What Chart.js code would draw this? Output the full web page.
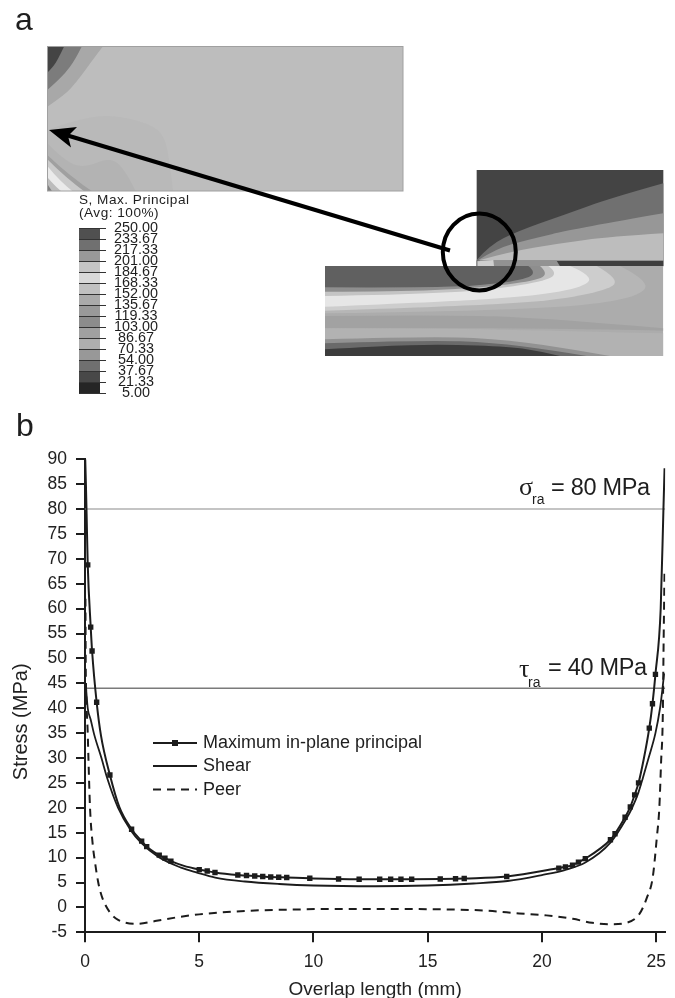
<!DOCTYPE html>
<html>
<head>
<meta charset="utf-8">
<style>html,body{margin:0;padding:0;background:#fff}canvas{display:block;filter:blur(0.35px)}</style>
<script src="https://cdn.jsdelivr.net/npm/chart.js@4"></script>
</head>
<body>
<canvas id="c" width="675" height="998"></canvas>
<script>
// ---- chart data ----
const maxLabel = 'Maximum in-plane principal';
const shearLabel = 'Shear';
const peerLabel = 'Peer';
const yTickValues = [90,85,80,75,70,65,60,55,50,45,40,35,30,25,20,15,10,5,0,-5];
const xTickValues = [0,5,10,15,20,25];

const maxX = [0.01,0.04,0.07,0.12,0.25,0.31,0.51,0.7,1.09,1.5,2.04,2.48,2.7,3.25,3.5,3.76,4.3,5,5.35,5.69,6.69,7.07,7.43,7.78,8.13,8.48,8.83,9.84,11.1,12,12.9,13.38,13.83,14.3,15.55,16.22,16.6,18.46,20.74,21.03,21.34,21.6,21.9,23,23.2,23.64,23.87,24.06,24.23,24.45,24.7,24.84,24.97,25.2,25.32,25.37];
const maxY = [90,85,79,68.8,56.3,51.5,41.2,34.5,26.6,20.2,15.7,13.3,12.2,10.5,9.9,9.3,8.4,7.6,7.3,7,6.5,6.4,6.3,6.2,6.1,6.05,6,5.85,5.7,5.66,5.66,5.66,5.66,5.66,5.7,5.75,5.8,6.2,7.9,8.15,8.5,9.1,9.8,13.6,14.8,18.1,20.2,22.6,25,29.6,36,40.9,46.8,60,80,88.2];

const markerX = [0.12,0.25,0.31,0.51,1.09,2.04,2.48,2.7,3.25,3.5,3.76,5,5.35,5.69,6.69,7.07,7.43,7.78,8.13,8.48,8.83,9.84,11.1,12,12.9,13.38,13.83,14.3,15.55,16.22,16.6,18.46,20.74,21.03,21.34,21.6,21.9,23,23.2,23.64,23.87,24.06,24.23,24.7,24.84,24.97];
const markerY = [68.8,56.3,51.5,41.2,26.6,15.7,13.3,12.2,10.5,9.9,9.3,7.6,7.3,7,6.5,6.4,6.3,6.2,6.1,6.05,6,5.85,5.7,5.66,5.66,5.66,5.66,5.66,5.7,5.75,5.8,6.2,7.9,8.15,8.5,9.1,9.8,13.6,14.8,18.1,20.2,22.6,25,36,40.9,46.8];

const shearX = [0.03,0.12,0.25,0.41,0.72,0.97,1.45,2,2.45,3.25,4.2,4.9,5.7,7,8.5,10,12.7,15,17,18.5,20,21,21.9,23,23.72,23.95,24.22,24.42,24.67,24.97,25.17,25.28,25.35];
const shearY = [45,40,37.7,34.6,30,26,20,15.5,13,10,8,7,6,5.2,4.7,4.4,4.25,4.4,4.8,5.3,6.5,7.5,9,13,18,20,23,26,30,35,40,44,47];

const peerX = [0.02,0.03,0.06,0.12,0.15,0.22,0.33,0.44,0.58,0.73,1.09,1.45,2.26,3.13,4.15,5,7.07,9.4,11.15,12.7,15,17.56,19,20.2,21.35,22.2,23.03,23.7,24.27,24.6,24.85,25.03,25.14,25.22,25.29,25.33,25.37];
const peerY = [62,50,42,35,30,20,13,9,5,2.3,-1,-2.5,-3.3,-2.7,-1.9,-1.4,-0.7,-0.4,-0.3,-0.3,-0.35,-0.65,-1.2,-1.6,-2.3,-3.1,-3.4,-3.1,-1.3,2,6,14,20,29.5,38,54,68];

const sigmaLimit = 80;
const tauLimit = 44;
const xMin = 0, xMax = 25.4, yMin = -5, yMax = 90;
const colorbarLabels = ['250.00','233.67','217.33','201.00','184.67','168.33','152.00','135.67','119.33','103.00','86.67','70.33','54.00','37.67','21.33','5.00'];
const colorbarGreys = ['#505050','#707070','#999999','#c4c4c4','#d8d8d8','#c0c0c0','#aaaaaa','#999999','#8c8c8c','#a0a0a0','#aeaeae','#989898','#707070','#484848','#252525'];

const pairs = (xs, ys) => xs.map((x, i) => ({x, y: ys[i]}));
const INK = '#1c1c1c';
const FONT = '"Liberation Sans", Arial, sans-serif';

// ---- panel (a) finite-element contour illustration ----
// a point [x, y, 1] is a sharp corner; any other point is rounded off
function poly(ctx, map, pts, fill) {
  const P = pts.map(p => { const q = map(p); return {x: q[0], y: q[1], c: p[2] === 1}; });
  const n = P.length;
  ctx.fillStyle = fill;
  ctx.beginPath();
  ctx.moveTo(P[0].x, P[0].y);
  for (let i = 1; i <= n; i++) {
    const V = P[i % n], N = P[(i + 1) % n];
    if (V.c) ctx.lineTo(V.x, V.y);
    else if (N.c) ctx.quadraticCurveTo(V.x, V.y, N.x, N.y);
    else ctx.quadraticCurveTo(V.x, V.y, (V.x + N.x) / 2, (V.y + N.y) / 2);
  }
  ctx.closePath();
  ctx.fill();
}
function drawDetailPanel(ctx) {
  const m = p => [40 + p[0] / 3, 40 + p[1] / 3];
  ctx.save();
  ctx.beginPath(); ctx.rect(47.5, 46.5, 355.5, 144.5); ctx.clip();
  ctx.filter = 'blur(0.7px)';
  ctx.fillStyle = '#bdbdbd'; ctx.fillRect(47, 46, 357, 146);
  poly(ctx, m, [[22,20,1],[188,20,1],[165,50],[140,85],[110,125],[75,165],[22,200,1]], '#a8a8a8');
  poly(ctx, m, [[22,20,1],[125,20,1],[105,60],[75,100],[45,130],[22,150,1]], '#7c7c7c');
  poly(ctx, m, [[22,20,1],[72,20,1],[55,55],[40,80],[22,98,1]], '#444444');
  poly(ctx, m, [[22,270,1],[90,245],[205,222],[330,250],[375,290],[390,375],[400,460,1],[22,460,1]], '#b9b9b9');
  poly(ctx, m, [[22,310,1],[70,360],[130,385],[215,350],[262,400],[290,460,1],[22,460,1]], '#b3b3b3');
  poly(ctx, m, [[22,345,1],[90,410],[165,460,1],[22,460,1]], '#a0a0a0');
  poly(ctx, m, [[22,358,1],[75,412],[140,460,1],[22,460,1]], '#cacaca');
  poly(ctx, m, [[22,378,1],[60,425],[105,460,1],[22,460,1]], '#eaeaea');
  poly(ctx, m, [[22,412,1],[50,445],[72,460,1],[22,460,1]], '#bcbcbc');
  poly(ctx, m, [[22,432,1],[40,460,1],[22,460,1]], '#808080');
  ctx.restore();
  ctx.strokeStyle = '#a0a0a0'; ctx.lineWidth = 1;
  ctx.strokeRect(47.5, 46.5, 355.5, 144.5);
}
function drawJointPanel(ctx) {
  const m = p => [310 + p[0] / 3, 160 + p[1] / 3];
  ctx.save();
  ctx.filter = 'blur(0.7px)';
  // upper adherend
  poly(ctx, m, [[500,30,1],[1060,30,1],[1060,318,1],[500,318,1]], '#444444');
  poly(ctx, m, [[500,300,1],[540,255],[620,215],[760,165],[900,115],[1060,70,1],[1060,302,1],[500,302,1]], '#707070');
  poly(ctx, m, [[505,300,1],[560,265],[650,240],[800,205],[1060,160,1],[1060,302,1],[505,302,1]], '#979797');
  poly(ctx, m, [[510,300,1],[600,275],[750,250],[900,230],[1060,220,1],[1060,302,1],[510,302,1]], '#bdbdbd');
  poly(ctx, m, [[500,302,1],[1060,302,1],[1060,319,1],[500,319,1]], '#3e3e3e');
  poly(ctx, m, [[500,302,1],[740,302,1],[750,319,1],[500,319,1]], '#929292');
  poly(ctx, m, [[503,304,1],[550,300,1],[552,318,1],[503,318,1]], '#cfcfcf');
  ctx.restore();
  // lower adherend
  ctx.save();
  ctx.beginPath(); ctx.rect(325, 266, 338.3, 90); ctx.clip();
  ctx.filter = 'blur(0.7px)';
  poly(ctx, m, [[45,318,1],[1060,318,1],[1060,588,1],[45,588,1]], '#acacac');
  poly(ctx, m, [[45,318,1],[930,318,1],[1022,365],[985,410],[800,440],[400,455],[45,460,1]], '#b6b6b6');
  poly(ctx, m, [[45,318,1],[860,318,1],[935,360],[880,395],[700,425],[400,440],[45,452,1]], '#cdcdcd');
  poly(ctx, m, [[45,318,1],[780,318,1],[855,350],[810,385],[650,410],[400,425],[45,440,1]], '#e6e6e6');
  poly(ctx, m, [[45,318,1],[715,318,1],[745,340],[700,365],[520,392],[250,405],[45,408,1]], '#c4c4c4');
  poly(ctx, m, [[45,318,1],[690,318,1],[715,340],[680,362],[500,385],[250,395],[45,395,1]], '#8e8e8e');
  poly(ctx, m, [[45,318,1],[655,318,1],[680,338],[640,360],[500,378],[300,383],[45,382,1]], '#606060');
  poly(ctx, m, [[45,468,1],[400,464],[700,474],[1060,505,1],[1060,512,1],[700,505],[400,505],[45,505,1]], '#a2a2a2');
  poly(ctx, m, [[45,505,1],[400,505],[700,512],[1060,520,1],[1060,588,1],[45,588,1]], '#b2b2b2');
  poly(ctx, m, [[45,538,1],[380,528],[600,540],[800,570],[900,588,1],[45,588,1]], '#929292');
  poly(ctx, m, [[45,550,1],[350,540],[550,548],[720,570],[830,588,1],[45,588,1]], '#6a6a6a');
  poly(ctx, m, [[45,568,1],[200,558],[400,553],[600,560],[700,575],[750,588,1],[45,588,1]], '#3c3c3c');
  ctx.restore();
}
function drawColorbar(ctx) {
  const left = 79, width = 21, top = 228, step = 11;
  colorbarGreys.forEach((g, i) => {
    ctx.fillStyle = g;
    ctx.fillRect(left, top + i * step, width, step);
  });
  ctx.strokeStyle = '#333'; ctx.lineWidth = 1;
  ctx.fillStyle = '#1e1e1e';
  ctx.font = '14.4px ' + FONT;
  ctx.textAlign = 'center';
  ctx.textBaseline = 'middle';
  colorbarLabels.forEach((t, i) => {
    const y = top + i * step + 0.5;
    ctx.beginPath(); ctx.moveTo(left, y); ctx.lineTo(left + 27, y); ctx.stroke();
    ctx.fillText(t, 136, y);
  });
  ctx.textAlign = 'left';
  ctx.font = '13.6px ' + FONT;
  ctx.letterSpacing = '0.5px';
  ctx.fillText('S, Max. Principal', 79, 200);
  ctx.fillText('(Avg: 100%)', 79, 213.5);
  ctx.letterSpacing = '0px';
}
function drawCallout(ctx) {
  ctx.strokeStyle = '#000';
  ctx.lineWidth = 4;
  ctx.beginPath(); ctx.moveTo(450, 250.5); ctx.lineTo(66, 135); ctx.stroke();
  ctx.fillStyle = '#000';
  ctx.beginPath();
  ctx.moveTo(49, 130); ctx.lineTo(77, 127); ctx.lineTo(68, 136); ctx.lineTo(71, 147.5);
  ctx.closePath(); ctx.fill();
  ctx.beginPath();
  ctx.ellipse(479.3, 252, 36.5, 38.5, 0, 0, Math.PI * 2);
  ctx.stroke();
}
function drawPanelLetters(ctx) {
  ctx.fillStyle = '#1e1e1e';
  ctx.font = '32px ' + FONT;
  ctx.textAlign = 'left';
  ctx.textBaseline = 'alphabetic';
  ctx.fillText('a', 15, 30);
  ctx.fillText('b', 16, 436);
}
function drawLimitLabels(ctx) {
  ctx.fillStyle = '#1e1e1e';
  ctx.textAlign = 'left';
  ctx.textBaseline = 'alphabetic';
  ctx.font = '26px "Liberation Serif", serif';
  ctx.fillText('σ', 519, 495);
  ctx.fillText('τ', 519, 677);
  ctx.font = '14px ' + FONT;
  ctx.fillText('ra', 532, 504);
  ctx.fillText('ra', 528, 687);
  ctx.font = '23.5px ' + FONT;
  ctx.letterSpacing = '-0.3px';
  ctx.fillText('= 80 MPa', 551, 495);
  ctx.fillText('= 40 MPa', 548, 675);
  ctx.letterSpacing = '0px';
}
function drawLegend(ctx, chart) {
  const rows = [0, 1, 2].map(i => chart.data.datasets[i]);
  const ys = [743, 766, 789.5];
  ctx.font = '18px ' + FONT;
  ctx.textAlign = 'left';
  ctx.textBaseline = 'middle';
  rows.forEach((d, i) => {
    ctx.strokeStyle = d.borderColor;
    ctx.lineWidth = d.borderWidth;
    ctx.setLineDash(d.borderDash || []);
    ctx.beginPath(); ctx.moveTo(153, ys[i]); ctx.lineTo(197, ys[i]); ctx.stroke();
    ctx.setLineDash([]);
    ctx.fillStyle = '#1e1e1e';
    ctx.fillText(d.label, 203, ys[i] + 0.5);
  });
  ctx.fillStyle = INK;
  ctx.fillRect(172, 740, 6, 6);
}
function shiftTitle(scale, dx, dy) {
  if (scale.$shifted) return;
  scale.$shifted = true;
  const original = scale.drawTitle;
  scale.drawTitle = function () {
    const c = this.ctx;
    c.save();
    c.translate(dx, dy);
    original.call(this);
    c.restore();
  };
}
const figurePlugin = {
  id: 'figure',
  beforeDraw(chart) {
    const ctx = chart.ctx;
    ctx.save();
    ctx.fillStyle = '#fff';
    ctx.fillRect(0, 0, chart.width, chart.height);
    drawDetailPanel(ctx);
    drawJointPanel(ctx);
    drawColorbar(ctx);
    drawCallout(ctx);
    drawPanelLetters(ctx);
    ctx.restore();
  },
  afterDraw(chart) {
    const ctx = chart.ctx;
    ctx.save();
    drawLimitLabels(ctx);
    drawLegend(ctx, chart);
    ctx.restore();
  }
};

new Chart(document.getElementById('c'), {
  type: 'line',
  plugins: [figurePlugin],
  data: {
    datasets: [
      {label: maxLabel, data: pairs(maxX, maxY), borderColor: INK, borderWidth: 2, pointRadius: 0, cubicInterpolationMode: 'monotone'},
      {label: shearLabel, data: pairs(shearX, shearY), borderColor: INK, borderWidth: 1.8, pointRadius: 0, cubicInterpolationMode: 'monotone'},
      {label: peerLabel, data: pairs(peerX, peerY), borderColor: INK, borderWidth: 2, borderDash: [8, 6], pointRadius: 0, cubicInterpolationMode: 'monotone'},
      {label: 'Maximum in-plane principal markers', data: pairs(markerX, markerY), showLine: false, pointStyle: 'rect', pointRadius: 3.8, pointBackgroundColor: INK, pointBorderWidth: 0},
      {label: 'σra', data: pairs([xMin, xMax], [sigmaLimit, sigmaLimit]), borderColor: '#b0b0b0', borderWidth: 1.5, pointRadius: 0},
      {label: 'τra', data: pairs([xMin, xMax], [tauLimit, tauLimit]), borderColor: '#7a7a7a', borderWidth: 1.5, pointRadius: 0}
    ]
  },
  options: {
    responsive: false,
    animation: false,
    devicePixelRatio: 1,
    layout: {padding: {left: 0, right: 9, top: 459.3, bottom: 0}},
    plugins: {legend: {display: false}, tooltip: {enabled: false}},
    scales: {
      x: {
        type: 'linear', min: xMin, max: xMax,
        afterFit(s) { s.height = 65.7; shiftTitle(s, 0, 3); },
        afterBuildTicks(s) { s.ticks = xTickValues.map(v => ({value: v})); },
        border: {color: INK, width: 2},
        grid: {drawOnChartArea: false, color: INK, lineWidth: 2, tickLength: 10},
        ticks: {color: '#222', font: {family: FONT, size: 17.5}, padding: 9, maxRotation: 0, autoSkip: false, includeBounds: false},
        title: {display: true, text: 'Overlap length (mm)', color: '#222', font: {family: FONT, size: 19}, padding: {top: 0, bottom: 0}}
      },
      y: {
        type: 'linear', min: yMin, max: yMax,
        afterFit(s) { s.width = 85; shiftTitle(s, 0, 26); },
        afterBuildTicks(s) { s.ticks = yTickValues.slice().reverse().map(v => ({value: v})); },
        border: {color: INK, width: 2},
        grid: {drawOnChartArea: false, color: INK, lineWidth: 2, tickLength: 9},
        ticks: {color: '#222', font: {family: FONT, size: 17.5}, padding: 9, autoSkip: false, includeBounds: false},
        title: {display: true, text: 'Stress (MPa)', color: '#222', font: {family: FONT, size: 20}, padding: {top: 9, bottom: 0}}
      }
    }
  }
});
</script>
</body>
</html>
